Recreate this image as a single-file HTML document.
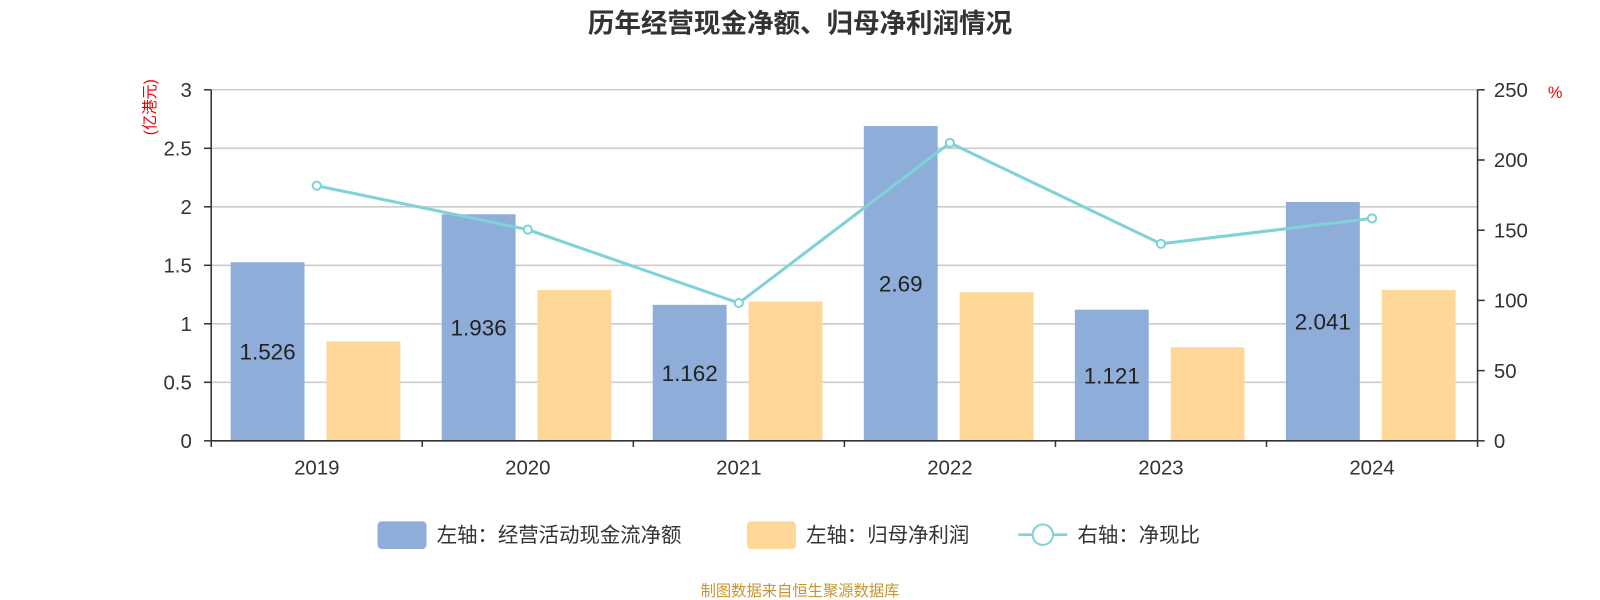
<!DOCTYPE html>
<html><head><meta charset="utf-8">
<style>
html,body{margin:0;padding:0;background:#fff;}
svg{display:block;font-family:"Liberation Sans","Noto Sans CJK SC",sans-serif;}
</style></head>
<body>
<svg id="chart" width="1600" height="600" viewBox="0 0 1568 588" preserveAspectRatio="none">
<text x="784" y="32" text-anchor="middle" font-size="26" font-weight="bold" fill="#333">历年经营现金净额、归母净利润情况</text>
<text transform="translate(152,105) rotate(-90)" text-anchor="middle" font-size="15" fill="#e00">(亿港元)</text>
<text x="1524" y="96" text-anchor="middle" font-size="16" fill="#e00">%</text>
<g id="grid"></g><g id="bars"></g><g id="line"></g><g id="axes"></g>
<g>
<g><rect x="370" y="511" width="48" height="27" rx="4" fill="#8eadd9"/><text x="428" y="531" font-size="20" fill="#333">左轴：经营活动现金流净额</text></g>
<g><rect x="732" y="511" width="48" height="27" rx="4" fill="#ffd899"/><text x="790" y="531" font-size="20" fill="#333">左轴：归母净利润</text></g>
<g><line x1="998" y1="524" x2="1046" y2="524" stroke="#7fd3d6" stroke-width="2.5"/><circle cx="1022" cy="524" r="10" fill="#fff" stroke="#7fd3d6" stroke-width="2"/><text x="1056" y="531" font-size="20" fill="#333">右轴：净现比</text></g>
</g>
<text x="784" y="584" text-anchor="middle" font-size="15" fill="#c8962e">制图数据来自恒生聚源数据库</text>
</svg>
<script>
const categories=["2019","2020","2021","2022","2023","2024"];
const cashFlow=[1.526,1.936,1.162,2.69,1.121,2.041];
const netProfit=[0.85,1.29,1.19,1.27,0.80,1.29];
const ratio=[181.7,150.4,98.1,212.2,140.3,158.4];
const leftTicks=[0,0.5,1,1.5,2,2.5,3];
const rightTicks=[0,50,100,150,200,250];
const NS="http://www.w3.org/2000/svg";
const L=207,R=1448,T=88,B=432;
const yL=v=>B-(B-T)*v/3, yR=v=>B-(B-T)*v/250;
const cw=(R-L)/categories.length;
const xC=i=>L+cw*i;
function mk(tag,attrs,parent,txt){const e=document.createElementNS(NS,tag);for(const k in attrs)e.setAttribute(k,attrs[k]);if(txt!==undefined)e.textContent=txt;parent.appendChild(e);return e;}
const grid=document.getElementById('grid'),bars=document.getElementById('bars'),line=document.getElementById('line'),axes=document.getElementById('axes');
leftTicks.forEach(t=>{const y=yL(t);
 if(t>0){const g=mk('line',{x1:L,x2:R,y1:y,y2:y,stroke:'#ccc','stroke-width':1.5},grid);
 
 }
 const tx=mk('text',{x:188,y:y+7,'text-anchor':'end','font-size':20,fill:'#333'},axes,String(t));
 
 
 mk('line',{x1:200,x2:L,y1:y,y2:y,stroke:'#333','stroke-width':1.5},axes);
});
rightTicks.forEach(t=>{const y=yR(t);
 const tx=mk('text',{x:1464,y:y+7,'font-size':20,fill:'#333'},axes,String(t));
 
 
 mk('line',{x1:R,x2:R+7,y1:y,y2:y,stroke:'#333','stroke-width':1.5},axes);
});
mk('line',{x1:L,x2:L,y1:T,y2:B,stroke:'#333','stroke-width':1.5},axes);
mk('line',{x1:R,x2:R,y1:T,y2:B,stroke:'#333','stroke-width':1.5},axes);
mk('line',{x1:L,x2:R,y1:B,y2:B,stroke:'#333','stroke-width':1.5},axes);
for(let i=0;i<=categories.length;i++)mk('line',{x1:xC(i),x2:xC(i),y1:B,y2:B+6,stroke:'#333','stroke-width':1.5},axes);
categories.forEach((c,i)=>{
 const tx=mk('text',{x:xC(i)+cw/2,y:465,'text-anchor':'middle','font-size':20,fill:'#333'},axes,c);
 
 
 const bw=cw*0.35;
 const bx=xC(i)+cw*0.092, by=yL(cashFlow[i]);
 const b1=mk('rect',{x:bx,y:by,width:bw,height:B-by,fill:'#8eadd9'},bars);
 
 
 const lb=mk('text',{x:bx+bw/2,y:(by+B)/2+8,'text-anchor':'middle','font-size':22,fill:'#222'},bars,String(cashFlow[i]));
 
 
 const ox=xC(i)+cw*0.546, oy=yL(netProfit[i]);
 const b2=mk('rect',{x:ox,y:oy,width:bw,height:B-oy,fill:'#ffd899'},bars);
 
 
});
const pts=ratio.map((v,i)=>(xC(i)+cw/2)+','+yR(v)).join(' ');
const pl=mk('polyline',{points:pts,fill:'none',stroke:'#7fd3d6','stroke-width':3},line);


ratio.forEach((v,i)=>{const p=mk('circle',{cx:xC(i)+cw/2,cy:yR(v),r:4,fill:'#fff',stroke:'#7fd3d6','stroke-width':2},line);
 
 });
</script>
</body></html>
